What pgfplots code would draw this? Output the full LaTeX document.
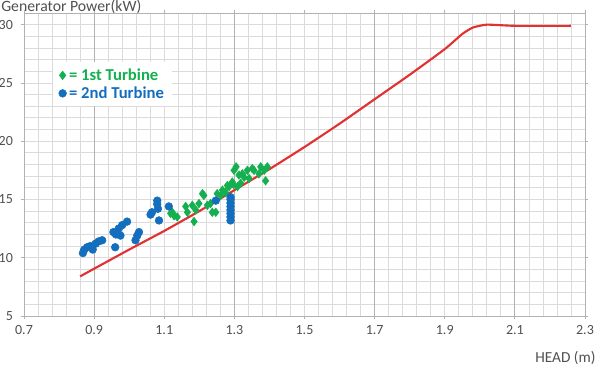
\documentclass[border=0pt]{standalone}
\usepackage{pgfplots}
\pgfplotsset{compat=1.18}
\usepackage{fontspec}
\setmainfont{Carlito}
\definecolor{tgreen}{RGB}{20,176,80}
\definecolor{tblue}{RGB}{20,110,190}
\definecolor{tred}{RGB}{225,50,50}
\definecolor{lblgray}{RGB}{80,80,80}
\begin{document}
\begin{tikzpicture}
\begin{axis}[
  clip=false,
  scale only axis, width=420.75pt, height=227.25pt,
  xmin=0.7, xmax=2.3, ymin=5, ymax=31,
  xtick={0.7,0.9,1.1,1.3,1.5,1.7,1.9,2.1,2.3},
  xticklabels={0.7,0.9,1.1,1.3,1.5,1.7,1.9,2.1,2.3},
  ytick={5,10,15,20,25,30},
  yticklabels={5,10,15,20,25,30},
  minor x tick num=4, minor y tick num=4,
  grid=both,
  minor grid style={gray!28, line width=0.6pt},
  major grid style={gray!28, line width=0.6pt},
  extra x ticks={0.9,1.3,1.7,2.1},
  extra x tick labels={},
  extra x tick style={grid=major, major grid style={gray!60, line width=0.7pt}},
  axis line style={gray!60, line width=0.6pt},
  tick style={gray!60, line width=0.6pt},
  tick align=outside, major tick length=2.5pt, minor tick length=0pt,
  tick label style={font=\fontsize{10.5}{12}\selectfont, text=lblgray},
  yticklabel style={xshift=-2.3pt},
  xticklabel style={yshift=-1pt},
  legend style={at={(rel axis cs:0.052,0.838)}, anchor=north west, draw=none, fill=white,
    font=\bfseries\fontsize{12.5}{14}\selectfont, inner xsep=4pt, inner ysep=5pt,
    row sep=4pt, nodes={inner ysep=0pt, inner xsep=2pt, text height=8.5pt, text depth=1pt}},
  legend cell align=left,
  legend image code/.code={\draw[#1] plot coordinates {(0pt,0pt)};},
]
\addplot[only marks, mark=diamond*, mark size=3.2pt, color=tgreen] coordinates {
(1.118,13.8)(1.123,13.9)(1.128,13.6)(1.137,13.5)(1.161,14.4)(1.166,13.9)(1.18,14.5)(1.185,13.1)
(1.19,14.1)(1.199,14.65)(1.209,15.5)(1.213,15.35)(1.223,14.5)(1.232,14.65)(1.237,13.9)(1.247,13.9)
(1.251,15.5)(1.261,15.35)(1.266,15.8)(1.275,15.6)(1.28,16.2)(1.285,16.1)(1.294,16.5)(1.297,16.3)
(1.299,17.5)(1.309,16.1)(1.313,17.1)(1.318,16.4)(1.323,17.2)(1.328,16.9)(1.337,17.5)(1.342,16.8)
(1.351,17.65)(1.356,17.5)(1.37,17.2)(1.385,17.5)(1.389,16.6)(1.394,17.8)(1.305,17.8)(1.375,17.8)
};
\addlegendentry{\textcolor{tgreen}{= 1st Turbine}}
\addplot[only marks, mark=*, mark size=2.9pt, color=tblue] coordinates {
(0.868,10.4)(0.872,10.7)(0.880,10.9)(0.889,11.0)(0.896,10.7)(0.904,11.2)(0.913,11.4)(0.923,11.5)
(0.960,10.9)(0.955,12.2)(0.962,12.0)(0.970,12.5)(0.975,11.9)(0.980,12.8)(0.994,13.1)(1.018,11.5)
(1.023,11.9)(1.028,12.2)(1.061,13.7)(1.065,13.9)(1.080,14.6)(1.080,14.9)(1.082,14.2)(1.085,13.2)
(1.113,14.4)(1.247,14.9)(1.289,13.2)(1.289,13.5)(1.289,13.8)(1.289,14.1)(1.289,14.4)(1.289,14.7)
(1.289,15.0)(1.289,15.2)
};
\addlegendentry{\textcolor{tblue}{= 2nd Turbine}}
\addplot[tred, line width=1.6pt, smooth, tension=0.3, forget plot] coordinates {
(0.86,8.4)(1.0,10.7)(1.1,12.3)(1.2,14.0)(1.3,15.8)(1.4,17.6)(1.5,19.5)(1.6,21.5)(1.7,23.6)
(1.8,25.7)(1.9,27.9)(1.95,29.2)(1.98,29.75)(2.02,30.0)(2.1,29.9)(2.26,29.9)
};
\node[anchor=base west, inner sep=0pt, font=\fontsize{11.8}{13}\selectfont, text=lblgray]
  at (rel axis cs:-0.0410,1.0050) {Generator Power(kW)};
\node[anchor=north west, inner sep=0pt, font=\fontsize{11.5}{13}\selectfont, text=lblgray]
  at (rel axis cs:0.9110,-0.1155) {HEAD (m)};
\coordinate (bl) at (rel axis cs:-0.04278,-0.1617);
\coordinate (tr) at (rel axis cs:1.02674,1.0429);
\end{axis}
\pgfresetboundingbox
\path[use as bounding box] (bl) rectangle (tr);
\end{tikzpicture}
\end{document}
